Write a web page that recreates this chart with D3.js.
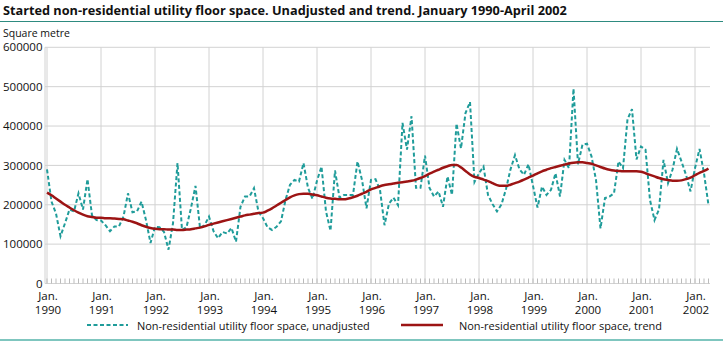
<!DOCTYPE html>
<html><head><meta charset="utf-8">
<script src="https://cdn.jsdelivr.net/npm/d3@7/dist/d3.min.js"></script>
<style>
body{margin:0;background:#fff;}
svg{display:block;font-family:"Open Sans",sans-serif;}
</style></head>
<body><svg id="c" width="723" height="341"></svg>
<script>
const title = "Started non-residential utility floor space. Unadjusted and trend. January 1990-April 2002";
const yUnit = "Square metre";
const years = [1990,1991,1992,1993,1994,1995,1996,1997,1998,1999,2000,2001,2002];
const yTicks = [0,100000,200000,300000,400000,500000,600000];
const seriesNames = ["Non-residential utility floor space, unadjusted","Non-residential utility floor space, trend"];

// Monthly values, January 1990 - April 2002 (square metres)
const unadjusted = [
 290000,208000,178000,120000,153000,188000,183000,229000,188000,265000,173000,161000,
 160000,148000,133000,145000,145000,170000,229000,181000,183000,208000,161000,103000,
 144000,143000,131000,86000,153000,306000,136000,143000,192000,248000,141000,148000,
 170000,133000,115000,131000,127000,141000,106000,195000,221000,221000,242000,182000,
 166000,143000,136000,144000,158000,212000,251000,263000,259000,306000,243000,215000,
 261000,297000,183000,134000,287000,218000,225000,225000,225000,310000,263000,191000,
 263000,265000,238000,148000,203000,218000,199000,408000,340000,425000,243000,243000,
 325000,243000,221000,234000,195000,272000,225000,406000,343000,433000,461000,258000,
 280000,297000,225000,202000,183000,201000,240000,290000,326000,290000,276000,303000,
 248000,193000,246000,225000,238000,280000,221000,314000,293000,495000,303000,353000,
 355000,323000,263000,140000,217000,221000,229000,310000,293000,417000,443000,315000,
 348000,340000,212000,161000,188000,314000,255000,289000,342000,310000,276000,234000,
 293000,342000,280000,199000
];
const trend = [
 231000,224000,216000,208000,200000,193000,186000,180000,175000,171000,169000,167000,
 167000,166000,166000,165000,164000,163000,160000,157000,153000,148000,144000,141000,
 139000,138000,138000,137000,137000,136000,136000,137000,138000,140000,142000,145000,
 149000,152000,155000,158000,161000,164000,167000,170000,173000,175000,177000,179000,
 180000,185000,191000,198000,205000,212000,219000,224000,227000,228000,228000,226000,
 224000,221000,218000,216000,215000,214000,214000,216000,219000,223000,228000,233000,
 239000,243000,247000,250000,252000,254000,256000,257000,259000,261000,264000,268000,
 273000,279000,284000,289000,294000,298000,301000,301000,295000,286000,277000,271000,
 268000,264000,260000,255000,250000,248000,248000,251000,255000,259000,264000,269000,
 274000,280000,285000,289000,293000,296000,299000,302000,305000,307000,308000,308000,
 306000,304000,300000,296000,292000,289000,287000,286000,285000,285000,285000,285000,
 284000,280000,276000,272000,268000,265000,263000,261000,261000,262000,265000,269000,
 275000,281000,286000,292000
];

const svg = d3.select("#c");
const x = d3.scaleLinear().domain([0, unadjusted.length-1]).range([47, 708.5]);
const y = d3.scaleLinear().domain([0, 600000]).range([283.5, 47.3]);
const plotL = 45, plotR = 710;
const grid = "#d2d2d2";
const ink = "#111";

// scale a text's font size so that its width matches the reference
function fit(sel, target, base){
  sel.attr("font-size", base);
  const w = sel.node().getComputedTextLength();
  const s = Math.max(8, Math.min(16, base * target / w));
  sel.attr("font-size", s);
  return s;
}

// title
const tt = svg.append("text").attr("x",3).attr("y",15).attr("font-weight","bold")
  .attr("fill",ink).text(title);
fit(tt, 564, 12);
svg.append("line").attr("x1",0).attr("x2",723).attr("y1",21.5).attr("y2",21.5)
  .attr("stroke","#2e8b80").attr("stroke-width",1);
const su = svg.append("text").attr("x",3).attr("y",37).attr("fill",ink).text(yUnit);
fit(su, 67, 11);

// horizontal grid
svg.append("g").selectAll("line").data(yTicks).join("line")
  .attr("x1",plotL).attr("x2",plotR).attr("y1",d=>y(d)).attr("y2",d=>y(d))
  .attr("stroke",grid).attr("stroke-width",1);
// vertical grid at January of each year
svg.append("g").selectAll("line").data(years).join("line")
  .attr("x1",(d,i)=>x(i*12)).attr("x2",(d,i)=>x(i*12)).attr("y1",y(600000)).attr("y2",y(0))
  .attr("stroke",grid).attr("stroke-width",1);
// y axis line
svg.append("line").attr("x1",plotL).attr("x2",plotL).attr("y1",y(600000)).attr("y2",y(0))
  .attr("stroke",grid);
// month ticks
svg.append("g").selectAll("line").data(d3.range(unadjusted.length)).join("line")
  .attr("x1",d=>x(d)).attr("x2",d=>x(d)).attr("y1",y(0)-5).attr("y2",y(0))
  .attr("stroke","#bbb").attr("stroke-width",1);

// y labels
const probe = svg.append("text").text("600000");
const lblSize = fit(probe, 39.5, 11);
probe.remove();
svg.append("g").selectAll("text").data(yTicks).join("text")
  .attr("x",42.5).attr("y",d=>y(d)).attr("dy","0.36em").attr("text-anchor","end")
  .attr("font-size",lblSize).attr("fill",ink).text(d=>d3.format("d")(d));
// x labels
const xl = svg.append("g").selectAll("g").data(years).join("g");
xl.append("text").attr("x",(d,i)=>x(i*12)+1).attr("y",299.5).attr("text-anchor","middle")
  .attr("font-size",lblSize).attr("fill",ink).text("Jan.");
xl.append("text").attr("x",(d,i)=>x(i*12)+1).attr("y",314).attr("text-anchor","middle")
  .attr("font-size",lblSize).attr("fill",ink).text(d=>d);

// series
const line = d3.line().x((d,i)=>x(i)).y(d=>y(d));
svg.append("path").datum(unadjusted).attr("d",line).attr("fill","none")
  .attr("stroke","#1f9c9a").attr("stroke-width",2).attr("stroke-dasharray","4,2.5");
svg.append("path").datum(trend).attr("d",d3.line().curve(d3.curveMonotoneX).x((d,i)=>x(i)).y(d=>y(d)))
  .attr("fill","none").attr("stroke","#9c1414").attr("stroke-width",2.5);

// legend
svg.append("line").attr("x1",87).attr("x2",128).attr("y1",325).attr("y2",325)
  .attr("stroke","#1f9c9a").attr("stroke-width",2).attr("stroke-dasharray","4,2.5");
const l1 = svg.append("text").attr("x",137).attr("y",329.5).attr("fill",ink).text(seriesNames[0]);
const legSize = fit(l1, 233, 11);
svg.append("line").attr("x1",401).attr("x2",443).attr("y1",325).attr("y2",325)
  .attr("stroke","#9c1414").attr("stroke-width",2.5);
svg.append("text").attr("x",459).attr("y",329.5).attr("fill",ink).attr("font-size",legSize).text(seriesNames[1]);

svg.append("line").attr("x1",0).attr("x2",723).attr("y1",340).attr("y2",340)
  .attr("stroke","#7fc6bf").attr("stroke-width",2);
</script></body></html>
